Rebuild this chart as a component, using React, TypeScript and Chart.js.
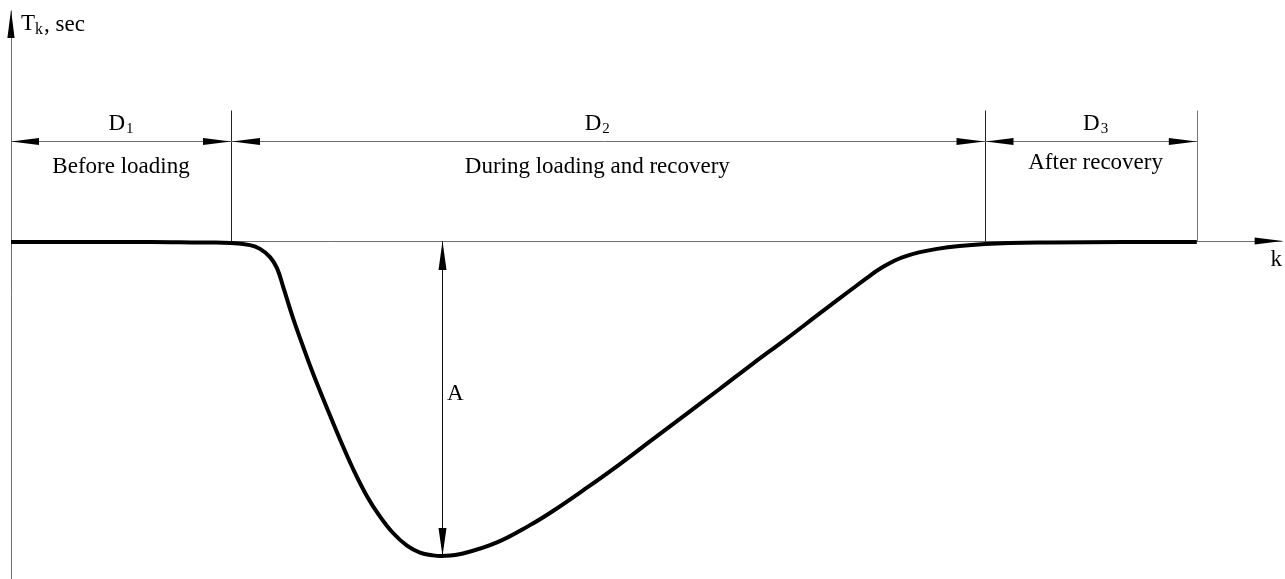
import React, { useEffect, useRef } from "react";
import { Chart, registerables } from "chart.js";

Chart.register(...registerables);

// ---- data (k: step index units, T: relative time units, A = 100) ----
const kValues = [
  0, 12.64, 17.18, 20, 21.73, 22.64, 23.55, 24.18, 24.73, 25.64, 26.55, 27.45, 28.73, 29.91, 31.09,
  32.36, 33.55, 34.73, 36, 37.18, 38.36, 39.18, 41.09, 44.18, 47.18, 49.27, 52.36, 55.36, 58.36,
  61.45, 64.45, 67.45, 70.55, 73.55, 76.55, 77.82, 79, 81.09, 84.18, 88.55, 94.45, 107.8,
];
const tValues = [
  -0.3, -0.3, -0.5, -0.6, -1.3, -2.5, -5.1, -8.6, -14.4, -24.5, -33.5, -42, -53.1, -63, -72.3,
  -81, -87.5, -92.7, -96.7, -98.9, -99.8, -100, -99.2, -95.7, -90.2, -85.7, -78.3, -70.8, -62.9,
  -54.8, -46.9, -38.9, -30.9, -22.9, -15, -11.7, -8.8, -5.1, -2.5, -0.95, -0.44, -0.32,
];
const phaseBounds = [0, 20, 88.5, 107.8];
const phaseSymbols = ["1", "2", "3"];
const phaseNames = ["Before loading", "During loading and recovery", "After recovery"];
const phaseLabelCenters = [10, 53.3, 98.6];
const amplitudeK = 39.2;
const amplitudeT = -100;
const amplitudeLabel = "A";
const yAxisTitleMain = "T";
const yAxisTitleSub = "k";
const yAxisTitleRest = ", sec";
const xAxisTitle = "k";

// ---- axis ranges ----
const X_MIN = -1;
const X_MAX = -1 + 1285 / 11;
const Y_MAX = 241 / 3.15;
const Y_MIN = -(579 - 241) / 3.15;

const FONT = "'Liberation Serif', 'Times New Roman', serif";

function arrow(ctx: CanvasRenderingContext2D, tx: number, ty: number, dx: number, dy: number, len = 28, half = 3.6) {
  const bx = tx - dx * len;
  const by = ty - dy * len;
  const px = -dy * half;
  const py = dx * half;
  ctx.beginPath();
  ctx.moveTo(tx, ty);
  ctx.lineTo(bx + px, by + py);
  ctx.lineTo(bx - px, by - py);
  ctx.closePath();
  ctx.fill();
}

function seg(ctx: CanvasRenderingContext2D, x1: number, y1: number, x2: number, y2: number) {
  ctx.beginPath();
  ctx.moveTo(x1, y1);
  ctx.lineTo(x2, y2);
  ctx.stroke();
}

const annotate = {
  id: "annotate",
  beforeDatasetsDraw(chart: any) {
    const { ctx } = chart;
    const xs = chart.scales.x;
    const ys = chart.scales.y;
    const X = (k: number) => Math.round(xs.getPixelForValue(k)) + 0.5;
    const Y = (t: number) => Math.round(ys.getPixelForValue(t)) + 0.5;
    const Xr = (k: number) => xs.getPixelForValue(k);
    const Yr = (t: number) => ys.getPixelForValue(t);

    ctx.save();
    ctx.lineWidth = 1;
    ctx.fillStyle = "#000";

    // axes
    ctx.strokeStyle = "#6e6e6e";
    seg(ctx, X(0), Y(73.3), X(0), chart.height);
    seg(ctx, X(0), Y(0), Xr(115.6), Y(0));
    arrow(ctx, Xr(0), Yr(73.3), 0, -1);
    arrow(ctx, Xr(115.6), Yr(0), 1, 0, 28, 3.6);

    // extension lines
    for (let i = 1; i < phaseBounds.length; i++) {
      ctx.strokeStyle = i === phaseBounds.length - 1 ? "#777" : "#222";
      seg(ctx, X(phaseBounds[i]), Y(41.6), X(phaseBounds[i]), Y(0));
    }

    // dimension line
    const dimT = 31.75;
    ctx.strokeStyle = "#6e6e6e";
    seg(ctx, X(phaseBounds[0]), Y(dimT), X(phaseBounds[phaseBounds.length - 1]), Y(dimT));
    for (let i = 0; i < phaseSymbols.length; i++) {
      const a = Xr(phaseBounds[i]) + (i === 0 ? 0 : 1);
      const b = Xr(phaseBounds[i + 1]);
      arrow(ctx, a, Y(dimT), -1, 0);
      arrow(ctx, b, Y(dimT), 1, 0);
    }

    // labels
    ctx.textBaseline = "alphabetic";
    const mainFont = `23px ${FONT}`;
    const subFont = `15px ${FONT}`;
    const nameBase = [21.6, 21.6, 22.9];
    const symBase = 35.2;
    for (let i = 0; i < phaseSymbols.length; i++) {
      const cx = Xr(phaseLabelCenters[i]);
      ctx.font = mainFont;
      const wD = ctx.measureText("D").width;
      ctx.font = subFont;
      const wS = ctx.measureText(phaseSymbols[i]).width;
      const left = cx - (wD + 1 + wS) / 2;
      ctx.font = mainFont;
      ctx.textAlign = "left";
      ctx.fillText("D", left, Yr(symBase));
      ctx.font = subFont;
      ctx.fillText(phaseSymbols[i], left + wD + 1, Yr(symBase) + 3);
      ctx.font = mainFont;
      ctx.textAlign = "center";
      ctx.fillText(phaseNames[i], cx, Yr(nameBase[i]));
    }

    // amplitude
    ctx.strokeStyle = "#111";
    seg(ctx, X(amplitudeK), Y(0), X(amplitudeK), Yr(amplitudeT));
    arrow(ctx, X(amplitudeK), Yr(0), 0, -1, 29, 4);
    arrow(ctx, X(amplitudeK), Yr(amplitudeT), 0, 1, 28, 4);
    ctx.font = mainFont;
    ctx.textAlign = "left";
    ctx.fillText(amplitudeLabel, Xr(39.64), Yr(-50.5));

    // axis titles
    const tx = Xr(0.91);
    const tb = Yr(67);
    ctx.font = mainFont;
    ctx.fillText(yAxisTitleMain, tx, tb);
    const wT = ctx.measureText(yAxisTitleMain).width;
    ctx.font = `16px ${FONT}`;
    ctx.fillText(yAxisTitleSub, tx + wT, tb + 4);
    const wk = ctx.measureText(yAxisTitleSub).width;
    ctx.font = mainFont;
    ctx.fillText(yAxisTitleRest, tx + wT + wk + 1, tb + 1);

    ctx.fillText(xAxisTitle, Xr(114.5), Yr(-7.9));
    ctx.restore();
  },
};

export default function App() {
  const ref = useRef<HTMLCanvasElement | null>(null);
  useEffect(() => {
    document.body.style.margin = "0";
    const canvas = ref.current;
    if (!canvas) return;
    const chart = new Chart(canvas, {
      type: "line",
      data: {
        datasets: [
          {
            data: kValues.map((k, i) => ({ x: k, y: tValues[i] })),
            borderColor: "#000",
            borderWidth: 4,
            pointRadius: 0,
            tension: 0.4,
            borderCapStyle: "butt",
            borderJoinStyle: "round",
            fill: false,
          },
        ],
      },
      options: {
        animation: false,
        responsive: false,
        devicePixelRatio: 1,
        layout: { padding: 0 },
        plugins: { legend: { display: false }, tooltip: { enabled: false } },
        scales: {
          x: { type: "linear", min: X_MIN, max: X_MAX, display: false },
          y: { type: "linear", min: Y_MIN, max: Y_MAX, display: false },
        },
      },
      plugins: [annotate],
    });
    return () => chart.destroy();
  }, []);
  return (
    <div style={{ position: "fixed", left: 0, top: 0, width: 1285, height: 579, background: "#fff" }}>
      <canvas ref={ref} width={1285} height={579} />
    </div>
  );
}
